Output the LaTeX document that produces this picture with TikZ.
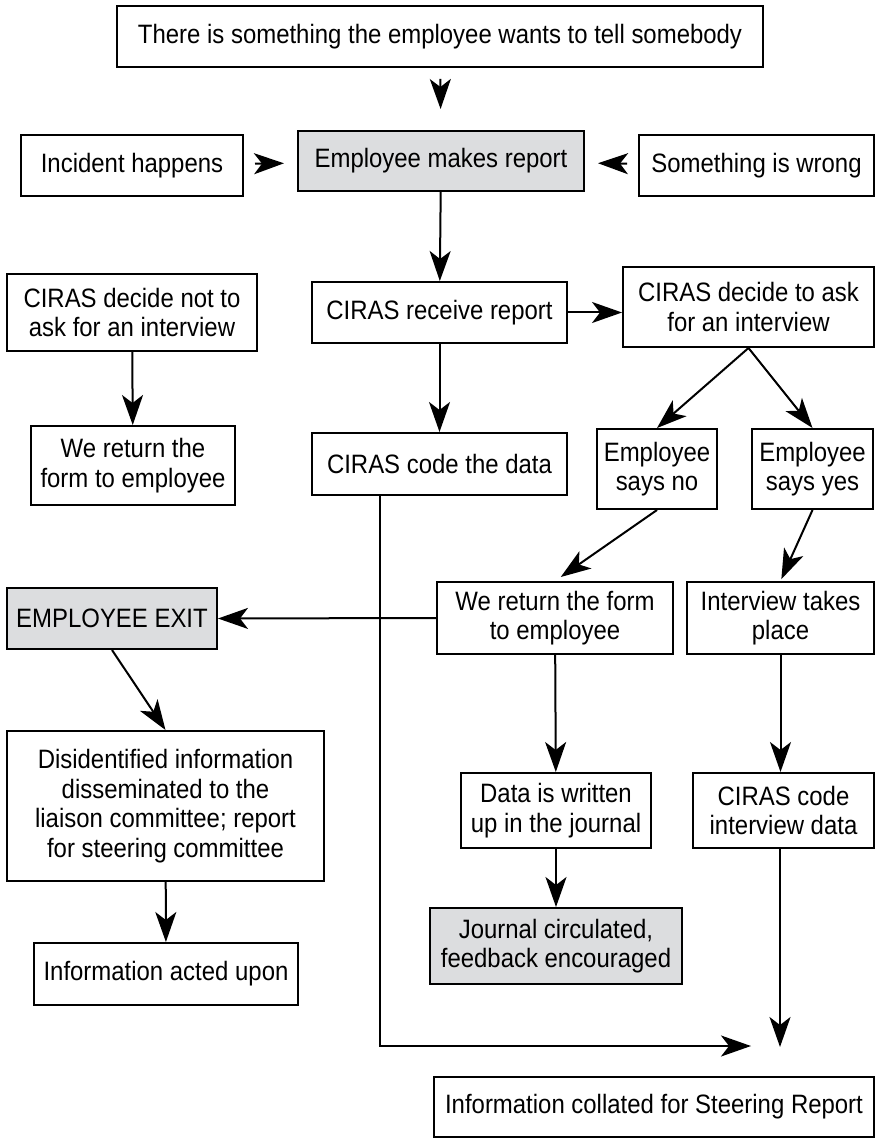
\documentclass[tikz,border=0pt]{standalone}
\usepackage{fontspec}
\setmainfont{Liberation Sans}[FakeStretch=0.9]
\usepackage{xcolor}
\usetikzlibrary{arrows.meta}
\definecolor{grisCaja}{RGB}{220,221,223}

\begin{document}
\begin{tikzpicture}[x=0.5pt, y=-0.5pt,
        box/.style={draw, line width=1pt, align=center, inner sep=2pt,
                    font=\fontsize{13.3}{14.8}\selectfont},
        shaded/.style={box, fill=grisCaja},
        arr/.style={line width=1pt, -{Stealth[length=15pt, width=10.5pt, inset=4pt]}},
        tiponly/.style={arr, shorten <=5.5pt, shorten >=6.5pt}
    ]
        \useasboundingbox (0,0) rectangle (876,1138);
        % top row
        \node[box, minimum width=323pt, minimum height=30.5pt] (tell) at (440,36.5) {There is something the employee wants to tell somebody};
        \node[box, minimum width=111pt, minimum height=30.5pt] (incident) at (132,165.5) {Incident happens};
        \node[shaded, minimum width=143pt, minimum height=30pt] (report) at (441,161) {Employee makes report};
        \node[box, minimum width=117.5pt, minimum height=30.5pt] (wrong) at (756.5,165.5) {Something is wrong};
        % CIRAS level
        \node[box, minimum width=125pt, minimum height=38.5pt] (noask) at (132,312.5) {CIRAS decide not to\\ask for an interview};
        \node[box, minimum width=102pt, minimum height=39.5pt] (retleft) at (133,465.5) {We return the\\form to employee};
        \node[box, minimum width=127.5pt, minimum height=30.5pt] (receive) at (439.5,312.5) {CIRAS receive report};
        \node[box, minimum width=125.5pt, minimum height=40pt] (ask) at (748.5,307) {CIRAS decide to ask\\for an interview};
        \node[box, minimum width=127.5pt, minimum height=31pt] (code) at (439.5,464) {CIRAS code the data};
        \node[box, minimum width=60pt, minimum height=40pt] (sayno) at (657,469) {Employee\\says no};
        \node[box, minimum width=60.5pt, minimum height=40pt] (sayyes) at (812.5,469) {Employee\\says yes};
        % lower part
        \node[shaded, minimum width=105pt, minimum height=30.5pt] (exit) at (112,618.5) {EMPLOYEE EXIT};
        \node[box, minimum width=118pt, minimum height=36pt] (retmid) at (555,618) {We return the form\\to employee};
        \node[box, minimum width=93.5pt, minimum height=36pt] (interview) at (780.5,618) {Interview takes\\place};
        \node[box, minimum width=158.5pt, minimum height=75pt] (disid) at (165.5,806) {Disidentified information\\disseminated to the\\liaison committee; report\\for steering committee};
        \node[box, minimum width=95pt, minimum height=37.5pt] (data) at (556,810.5) {Data is written\\up in the journal};
        \node[box, minimum width=90.5pt, minimum height=37.5pt] (codeint) at (783.5,810.5) {CIRAS code\\interview data};
        \node[box, minimum width=132pt, minimum height=31pt] (acted) at (166,974) {Information acted upon};
        \node[shaded, minimum width=126pt, minimum height=38pt] (journal) at (556,946) {Journal circulated,\\feedback encouraged};
        \node[box, minimum width=220pt, minimum height=30pt] (collated) at (654,1107) {Information collated for Steering Report};
        \coordinate (endh) at (751,1046);
        \coordinate (endv) at (780,1047);

        % connectors
        \draw[arr, shorten <=5.5pt, shorten >=10.5pt] (tell) -- (report);
        \draw[tiponly] (incident) -- (report);
        \draw[tiponly] (wrong) -- (report);
        \draw[arr] (report) -- (receive);
        \draw[arr] (receive.east) -- (receive.east -| ask.west);
        \draw[arr] (receive) -- (code);
        \draw[arr] (noask) -- (retleft);
        \draw[arr] (ask.south) -- (sayno.north);
        \draw[arr] (ask.south) -- (sayyes.north);
        \draw[arr, shorten >=3.5pt] (sayno.south) -- (retmid.north);
        \draw[arr, shorten >=1pt] (sayyes.south) -- (interview.north);
        \draw[arr] (retmid.west) -- (exit.east);
        \draw[arr] (exit.south) -- (disid.north);
        \draw[arr] (retmid) -- (data);
        \draw[arr] (interview.south) -- (interview.south |- codeint.north);
        \draw[arr] (disid) -- (acted);
        \draw[arr] (data) -- (journal);
        \draw[arr] (codeint.south -| endv) -- (endv);
        \draw[arr] ([xshift=34.5pt]code.south west) |- (endh);
    \end{tikzpicture}
\end{document}
